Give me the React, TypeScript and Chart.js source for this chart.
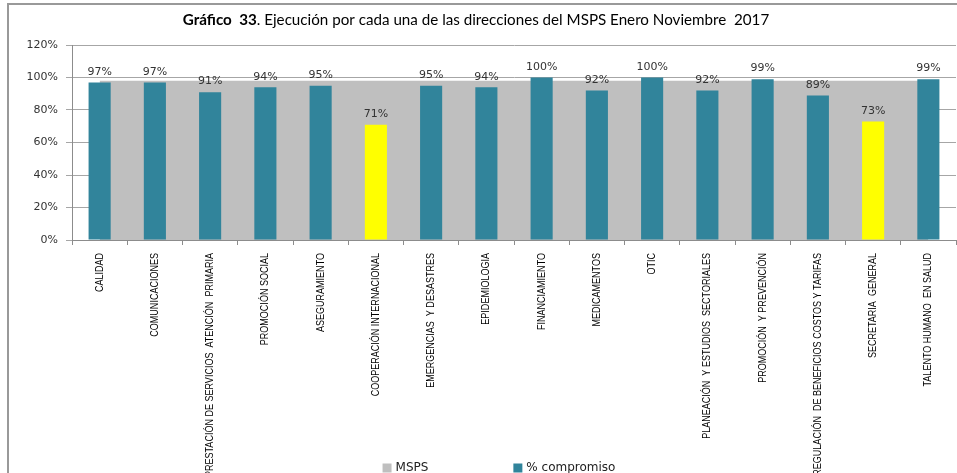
import React, { useEffect, useRef } from "react";
import { Chart, registerables } from "chart.js";

Chart.register(...registerables);

const categories: string[] = [
  "CALIDAD",
  "COMUNICACIONES",
  "PRESTACIÓN DE SERVICIOS  ATENCIÓN  PRIMARIA",
  "PROMOCIÓN SOCIAL",
  "ASEGURAMIENTO",
  "COOPERACIÓN INTERNACIONAL",
  "EMERGENCIAS  Y DESASTRES",
  "EPIDEMIOLOGIA",
  "FINANCIAMIENTO",
  "MEDICAMENTOS",
  "OTIC",
  "PLANEACIÓN  Y ESTUDIOS  SECTORIALES",
  "PROMOCIÓN  Y PREVENCIÓN",
  "REGULACIÓN  DE BENEFICIOS COSTOS Y TARIFAS",
  "SECRETARIA  GENERAL",
  "TALENTO HUMANO  EN SALUD",
];

const mspsValues: number[] = [
  0.98, 0.98, 0.98, 0.98, 0.98, 0.98, 0.98, 0.98,
  0.98, 0.98, 0.98, 0.98, 0.98, 0.98, 0.98, 0.98,
];

const compromisoValues: number[] = [
  0.97, 0.97, 0.91, 0.94, 0.95, 0.71, 0.95, 0.94,
  1.0, 0.92, 1.0, 0.92, 0.99, 0.89, 0.73, 0.99,
];

const highlightedCategories: string[] = ["COOPERACIÓN INTERNACIONAL", "SECRETARIA  GENERAL"];

const yTickValues: number[] = [0, 0.2, 0.4, 0.6, 0.8, 1.0, 1.2];

const seriesNames: string[] = ["MSPS", "% compromiso"];
const titleBold = "Gráfico  33";
const titleRest = ". Ejecución por cada una de las direcciones del MSPS Enero Noviembre  2017";

const TEAL = "#31849B";
const GRAY = "#BFBFBF";
const YELLOW = "#FFFF00";

const pct = (v: number) => Math.round(v * 100) + "%";

const titlePlugin = {
  id: "mixedTitle",
  afterDraw(chart: any) {
    const ctx = chart.ctx;
    ctx.save();
    const fam = "Lato, 'Liberation Sans', Arial, sans-serif";
    // fit title to the target span
    ctx.font = `bold 100px ${fam}`;
    const b100 = ctx.measureText(titleBold).width;
    ctx.font = `100px ${fam}`;
    const r100 = ctx.measureText(titleRest).width;
    const size = (587 / (b100 + r100)) * 100;
    const boldFont = `bold ${size}px ${fam}`;
    const normFont = `${size}px ${fam}`;
    ctx.font = boldFont;
    const w1 = ctx.measureText(titleBold).width;
    ctx.font = normFont;
    const w2 = ctx.measureText(titleRest).width;
    const cx = 476;
    let x = cx - (w1 + w2) / 2;
    const y = 20;
    ctx.fillStyle = "#000";
    ctx.textBaseline = "middle";
    ctx.textAlign = "left";
    ctx.font = boldFont;
    ctx.fillText(titleBold, x, y);
    x += w1;
    ctx.font = normFont;
    ctx.fillText(titleRest, x, y);
    ctx.restore();
  },
};

const xLabelPlugin = {
  id: "narrowXLabels",
  afterDraw(chart: any) {
    const ctx = chart.ctx;
    const xs = chart.scales.x;
    ctx.save();
    ctx.font = "11px 'Liberation Sans', Arial, sans-serif";
    ctx.fillStyle = "#000";
    ctx.textAlign = "right";
    ctx.textBaseline = "middle";
    const top = xs.top + 5 + 8;
    chart.data.labels.forEach((lab: string, i: number) => {
      const x = xs.getPixelForTick(i);
      ctx.save();
      ctx.translate(x, top);
      ctx.rotate(-Math.PI / 2);
      ctx.scale(0.82, 1);
      ctx.fillText(lab, 0, 0);
      ctx.restore();
    });
    ctx.restore();
  },
};

const valueLabelPlugin = {
  id: "valueLabels",
  afterDatasetsDraw(chart: any) {
    const ctx = chart.ctx;
    const meta = chart.getDatasetMeta(1);
    const ds = chart.data.datasets[1];
    ctx.save();
    ctx.font = "11px 'DejaVu Sans', Verdana, sans-serif";
    ctx.fillStyle = "#333";
    ctx.textAlign = "center";
    ctx.textBaseline = "bottom";
    meta.data.forEach((el: any, i: number) => {
      ctx.fillText(pct(ds.data[i]), el.x, el.y - 5);
    });
    ctx.restore();
  },
};

const legendPlugin = {
  id: "customLegend",
  afterDraw(chart: any) {
    const ctx = chart.ctx;
    ctx.save();
    ctx.font = "12px 'DejaVu Sans', Verdana, sans-serif";
    const box = 9;
    const gapText = 4;
    const gapItems = 85;
    const colors = [GRAY, TEAL];
    const widths = seriesNames.map((n) => box + gapText + ctx.measureText(n).width);
    const total = widths[0] + gapItems + widths[1];
    let x = chart.width / 2 + 4 - total / 2;
    const y = 468;
    ctx.textBaseline = "middle";
    ctx.textAlign = "left";
    seriesNames.forEach((n, i) => {
      ctx.fillStyle = colors[i];
      ctx.fillRect(x, y - box / 2, box, box);
      ctx.fillStyle = "#222";
      ctx.fillText(n, x + box + gapText, y);
      x += widths[i] + gapItems;
    });
    ctx.restore();
  },
};

export default function App() {
  const ref = useRef<HTMLCanvasElement | null>(null);

  useEffect(() => {
    if (!ref.current) return;
    const barColors = categories.map((c) =>
      highlightedCategories.includes(c) ? YELLOW : TEAL
    );
    const chart = new Chart(ref.current, {
      type: "bar",
      data: {
        labels: categories,
        datasets: [
          {
            type: "line",
            label: seriesNames[0],
            data: mspsValues,
            fill: "origin",
            backgroundColor: GRAY,
            borderColor: GRAY,
            borderWidth: 0,
            pointRadius: 0,
            tension: 0,
            order: 2,
          } as any,
          {
            type: "bar",
            label: seriesNames[1],
            data: compromisoValues,
            backgroundColor: barColors,
            barPercentage: 0.4,
            categoryPercentage: 1,
            order: 1,
          },
        ],
      },
      options: {
        responsive: false,
        animation: false,
        layout: { padding: { left: 8, right: 34, top: 45, bottom: 0 } },
        plugins: {
          legend: { display: false },
          title: { display: false },
          tooltip: { enabled: false },
        },
        scales: {
          x: {
            type: "category",
            offset: true,
            grid: {
              offset: true,
              drawOnChartArea: false,
              drawTicks: true,
              tickLength: 5,
              color: "#8c8c8c",
            },
            border: { color: "#8c8c8c", width: 1 },
            ticks: { display: false, autoSkip: false },
            afterFit: (s: any) => {
              s.height = 240;
            },
          },
          y: {
            min: yTickValues[0],
            max: yTickValues[yTickValues.length - 1],
            afterBuildTicks: (s: any) => {
              s.ticks = yTickValues.map((v) => ({ value: v }));
            },
            ticks: {
              callback: (v: any) => pct(Number(v)),
              padding: 8,
              color: "#333",
              font: { family: "'DejaVu Sans', Verdana, sans-serif", size: 11 },
            },
            grid: { color: "#a6a6a6", tickLength: 6 },
            border: { color: "#8c8c8c" },
            afterFit: (s: any) => {
              s.width = 64;
            },
          },
        },
      },
      plugins: [titlePlugin, xLabelPlugin, valueLabelPlugin, legendPlugin],
    });
    return () => chart.destroy();
  }, []);

  return (
    <div
      style={{
        position: "fixed",
        left: 0,
        top: 0,
        width: 957,
        height: 473,
        overflow: "hidden",
        background: "#fff",
      }}
    >
      <div
        style={{
          position: "absolute",
          left: 7,
          top: 3,
          width: 1000,
          height: 500,
          border: "2px solid #999",
          boxSizing: "border-box",
        }}
      />
      <canvas
        ref={ref}
        width={990}
        height={480}
        style={{ position: "absolute", left: 0, top: 0, width: 990, height: 480 }}
      />
    </div>
  );
}
